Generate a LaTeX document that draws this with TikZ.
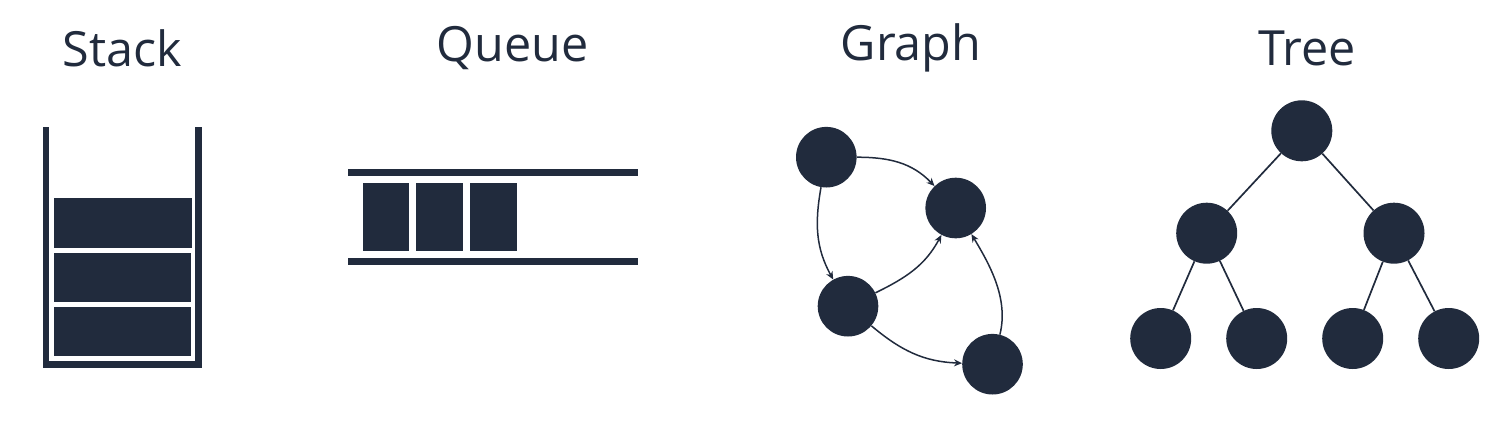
\documentclass[tikz,border=0pt]{standalone}
\usepackage{fontspec}
\setmainfont{Open Sans}
\usetikzlibrary{arrows.meta}
\definecolor{ink}{RGB}{33,43,61}
\begin{document}
\begin{tikzpicture}[x=1pt,y=-1pt,
  title/.style={anchor=base,text=ink,font=\fontsize{48.5}{58}\selectfont,inner sep=0},
  gnode/.style={circle,fill=ink,draw=none,minimum size=60.6pt,inner sep=0},
  tnode/.style={circle,fill=ink,draw=none,minimum size=61pt,inner sep=0},
  garrow/.style={draw=ink,line width=1.5pt,-{Stealth[length=8pt,width=7pt]}},
  tedge/.style={draw=ink,line width=1.7pt},
  block/.style={fill=ink,draw=none}]
\useasboundingbox (0,0) rectangle (1498,421);
% titles
\node[title] (tstack) at (122.5,66) {Stack};
\node[title] (tqueue) at (512.5,61) {Queue};
\node[title] (tgraph) at (911,60) {Graph};
\node[title] (ttree) at (1307,65) {Tree};
% stack
\draw[ink,line width=6.5pt,line join=miter] (46,127) -- (46,364.5) -- (198.5,364.5) -- (198.5,127);
\fill[block] (53.5,198.3) rectangle (191.5,247.7);
\fill[block] (53.5,253) rectangle (190.5,302);
\fill[block] (53.5,306.7) rectangle (190.5,356);
% queue
\fill[block] (347.7,169.3) rectangle (638.3,176.3);
\fill[block] (347.7,258.3) rectangle (638.3,265.3);
\fill[block] (362.7,183.3) rectangle (409.3,251);
\fill[block] (416.3,183.3) rectangle (463,251);
\fill[block] (470.3,183.3) rectangle (516.7,251);
% graph
\node[gnode] (g1) at (826.3,157.2) {};
\node[gnode] (g2) at (955.7,208) {};
\node[gnode] (g3) at (848,306.2) {};
\node[gnode] (g4) at (992.5,364.2) {};
\draw[garrow] (g1) to[out=0,in=134] (g2);
\draw[garrow] (g1) to[out=-100,in=119] (g3);
\draw[garrow] (g3) to[out=26,in=-118] (g2);
\draw[garrow] (g3) to[out=-40,in=178] (g4);
\draw[garrow] (g4) to[out=76,in=-59,looseness=0.9] (g2);
% tree
\node[tnode] (r) at (1301.8,130.8) {};
\node[tnode] (a) at (1206.7,233.2) {};
\node[tnode] (b) at (1394,233.2) {};
\node[tnode] (a1) at (1160.7,338.5) {};
\node[tnode] (a2) at (1256.7,338.5) {};
\node[tnode] (b1) at (1352.7,338.5) {};
\node[tnode] (b2) at (1448.7,338.5) {};
\draw[tedge] (r) -- (a);
\draw[tedge] (r) -- (b);
\draw[tedge] (a) -- (a1);
\draw[tedge] (a) -- (a2);
\draw[tedge] (b) -- (b1);
\draw[tedge] (b) -- (b2);
\end{tikzpicture}
\end{document}
